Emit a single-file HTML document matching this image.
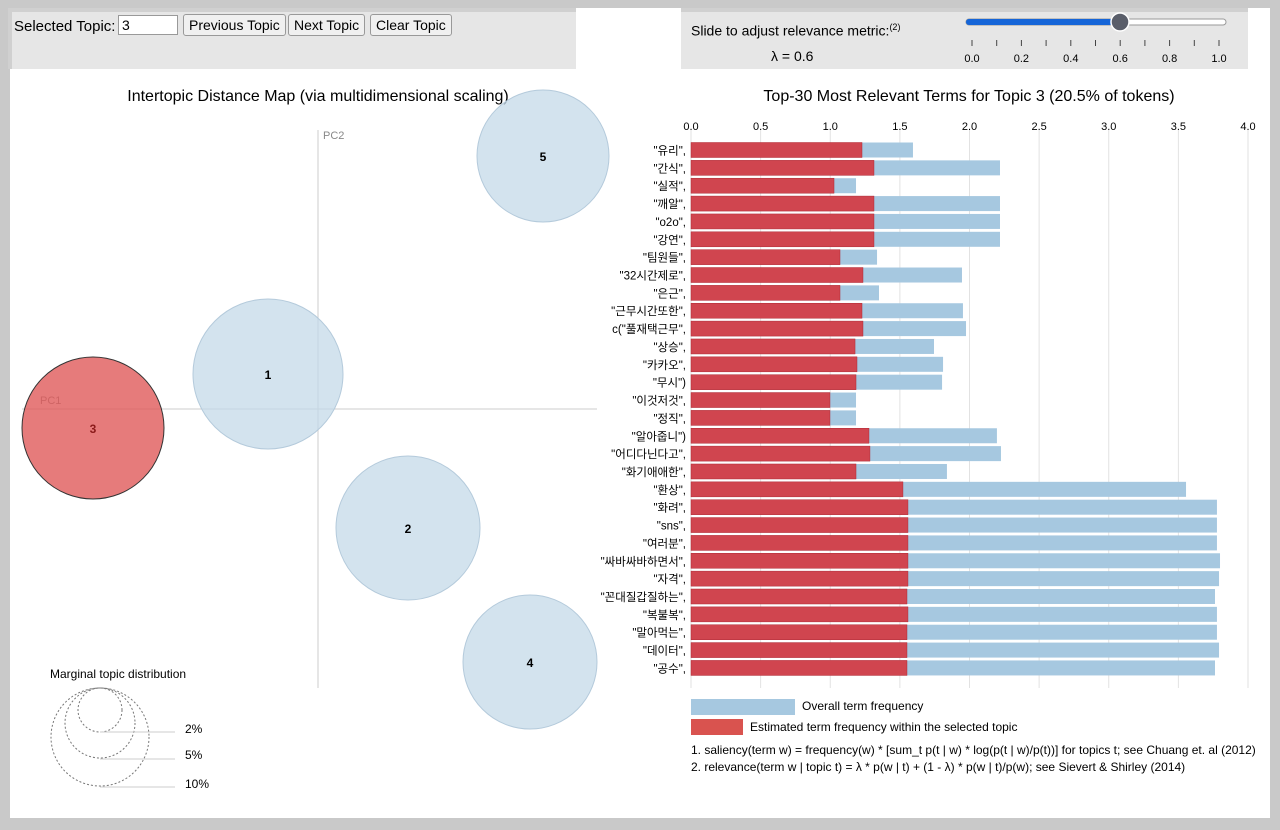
<!DOCTYPE html>
<html><head><meta charset="utf-8"><style>
body{margin:0;width:1280px;height:830px;background:#c9c9c9;font-family:"Liberation Sans","Noto Sans CJK KR",sans-serif;overflow:hidden;position:relative}
#main{position:absolute;left:10px;top:8px;width:1260px;height:810px;background:#fff}
.panel{position:absolute;background:#e6e6e6}
button{font-family:inherit;font-size:14px;padding:1px 5px;border:1px solid #999;border-radius:3px;background:#f0f0f0;height:22px}
</style></head><body>
<div id="main"></div>
<div class="panel" style="left:8px;top:8px;width:568px;height:61px;border-top:4px solid #d0d0d0;border-left:4px solid #d0d0d0;box-sizing:border-box">
 <span style="position:absolute;left:2px;top:6px;font-size:15px">Selected Topic:</span>
 <input value="3" style="position:absolute;left:106px;top:3px;width:52px;height:18px;font-size:14px;border:1px solid #999;font-family:inherit;padding:0 3px">
 <button style="position:absolute;left:171px;top:2px">Previous Topic</button>
 <button style="position:absolute;left:276px;top:2px">Next Topic</button>
 <button style="position:absolute;left:358px;top:2px">Clear Topic</button>
</div>
<div class="panel" style="left:681px;top:8px;width:567px;height:61px;border-top:4px solid #d0d0d0;box-sizing:border-box">
 <span style="position:absolute;left:10px;top:10px;font-size:14px">Slide to adjust relevance metric:<sup style="font-size:9px">(2)</sup></span>
 <span style="position:absolute;left:90px;top:36px;font-size:14px">λ = 0.6</span>
</div>
<svg width="1280" height="830" style="position:absolute;left:0;top:0" font-family="Liberation Sans, Noto Sans CJK KR, sans-serif">
 <g>
  <rect x="966" y="19" width="260" height="6" rx="3" fill="#fff" stroke="#999"/>
  <rect x="966" y="19" width="154" height="6" rx="3" fill="#1565d8"/>
  <circle cx="1120" cy="22" r="9" fill="#5a5e6a" stroke="#fff" stroke-width="1.5"/>
  <g id="sl" font-size="11" text-anchor="middle"></g>
 </g>
 <text x="318" y="101" font-size="16" text-anchor="middle">Intertopic Distance Map (via multidimensional scaling)</text>
 <text x="969" y="101" font-size="16" text-anchor="middle">Top-30 Most Relevant Terms for Topic 3 (20.5% of tokens)</text>
 <line x1="318" y1="130" x2="318" y2="688" stroke="#ccc"/>
 <line x1="22" y1="409" x2="597" y2="409" stroke="#ccc"/>
 <text x="323" y="139" font-size="11" fill="#888">PC2</text>
 <text x="40" y="404" font-size="11" fill="#888">PC1</text>
 <g id="circles"></g>
 <text x="50" y="678" font-size="12">Marginal topic distribution</text>
 <g fill="none" stroke="#777" stroke-dasharray="2,2">
  <circle cx="100" cy="737" r="49"/><circle cx="100" cy="723" r="35"/><circle cx="100" cy="710" r="22"/>
 </g>
 <g stroke="#ccc"><line x1="100" y1="732" x2="175" y2="732"/><line x1="100" y1="759" x2="175" y2="759"/><line x1="100" y1="787" x2="175" y2="787"/></g>
 <g font-size="12"><text x="185" y="733">2%</text><text x="185" y="759">5%</text><text x="185" y="788">10%</text></g>
 <g id="grid"></g>
 <g id="bars"></g>
 <rect x="691" y="699" width="104" height="16" fill="#a6c8e0"/>
 <text x="802" y="710" font-size="12">Overall term frequency</text>
 <rect x="691" y="719" width="52" height="16" fill="#d9534f"/>
 <text x="750" y="731" font-size="12">Estimated term frequency within the selected topic</text>
 <text x="691" y="754" font-size="12">1. saliency(term w) = frequency(w) * [sum_t p(t | w) * log(p(t | w)/p(t))] for topics t; see Chuang et. al (2012)</text>
 <text x="691" y="771" font-size="12">2. relevance(term w | topic t) = λ * p(w | t) + (1 - λ) * p(w | t)/p(w); see Sievert &amp; Shirley (2014)</text>
</svg>
<script>
const terms=['"유리",','"간식",','"실적",','"깨알",','"o2o",','"강연",','"팀원들",','"32시간제로",','"은근",','"근무시간또한",','c("풀재택근무",','"상승",','"카카오",','"무시")','"이것저것",','"정직",','"알아줍니")','"어디다닌다고",','"화기애애한",','"환상",','"화려",','"sns",','"여러분",','"싸바싸바하면서",','"자격",','"꼰대질갑질하는",','"복불복",','"말아먹는",','"데이터",','"공수",'];
const overall=[1.594,2.219,1.185,2.219,2.219,2.219,1.336,1.946,1.35,1.953,1.975,1.745,1.81,1.803,1.185,1.185,2.197,2.226,1.838,3.555,3.777,3.777,3.777,3.799,3.792,3.763,3.777,3.777,3.792,3.763];
const estimated=[1.228,1.314,1.027,1.314,1.314,1.314,1.07,1.235,1.07,1.228,1.235,1.178,1.192,1.185,0.998,0.998,1.278,1.285,1.185,1.522,1.558,1.558,1.558,1.558,1.558,1.551,1.558,1.551,1.551,1.551];
const xTicks=[0,0.5,1.0,1.5,2.0,2.5,3.0,3.5,4.0];
const topics=['1','2','3','4','5'];
const topicX=[268,408,93,530,543];
const topicY=[374,528,428,662,156];
const topicR=[75,72,71,67,66];
const sliderTicks=[0,0.2,0.4,0.6,0.8,1.0];
const NS='http://www.w3.org/2000/svg';
function mk(t,a,p){const e=document.createElementNS(NS,t);for(const k in a)e.setAttribute(k,a[k]);p.appendChild(e);return e;}
const x=v=>691+v*139.25, y=i=>142.5+i*17.86;
const grid=document.getElementById('grid');
xTicks.forEach(v=>{const l=mk('line',{x1:x(v),x2:x(v),y1:130,y2:688,stroke:'#e2e2e2'},grid);

const t=mk('text',{x:x(v),y:130,'font-size':11,'text-anchor':'middle'},grid);t.textContent=v.toFixed(1);
});
const bars=document.getElementById('bars');
terms.forEach((n,i)=>{
const b=mk('rect',{x:x(0),y:y(i),width:x(overall[i])-x(0),height:15,fill:'#a6c8e0'},bars);

const r=mk('rect',{x:x(0),y:y(i),width:x(estimated[i])-x(0),height:15,fill:'#d0454f',stroke:'#b02a35','stroke-width':0.5},bars);

const t=mk('text',{x:686,y:y(i)+12,'font-size':11.5,'text-anchor':'end'},bars);t.textContent=n;
});
const cg=document.getElementById('circles');
topics.forEach((n,i)=>{const sel=n==='3';
const c=mk('circle',{cx:topicX[i],cy:topicY[i],r:topicR[i],fill:sel?'#e05a5a':'#c4d9e8','fill-opacity':sel?0.8:0.75,stroke:sel?'#333':'#b4cadb','stroke-width':1},cg);

const t=mk('text',{x:topicX[i],y:topicY[i]+5,'font-size':12,'font-weight':'bold','text-anchor':'middle',fill:sel?'#8b1a1a':'#000'},cg);t.textContent=n;
});
const sl=document.getElementById('sl');
for(let k=0;k<=10;k++){mk('line',{x1:972+k*24.7,x2:972+k*24.7,y1:40,y2:46,stroke:'#444'},sl);}
sliderTicks.forEach(v=>{const t=mk('text',{x:972+v*247,y:62},sl);t.textContent=v.toFixed(1);
});
</script>
</body></html>
